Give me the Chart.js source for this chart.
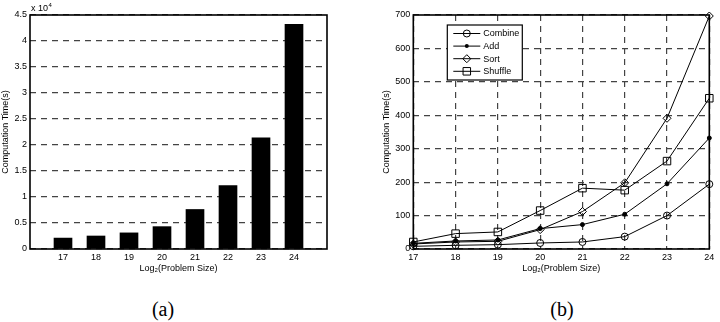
<!DOCTYPE html>
<html>
<head>
<meta charset="utf-8">
<script src="https://cdn.jsdelivr.net/npm/chart.js@4/dist/chart.umd.min.js"></script>
<style>
  body { margin: 0; background: #fff; width: 720px; height: 322px; position: relative; overflow: hidden; }
  .panel { position: absolute; top: 0; width: 360px; height: 276px; }
  #leftPanel { left: 0; }
  #rightPanel { left: 360px; }
  .caption { position: absolute; top: 298px; width: 60px; text-align: center; line-height: 22px;
             font-family: "Liberation Serif", "DejaVu Serif", serif; font-size: 20px; color: #000; }
</style>
</head>
<body>
<div class="panel" id="leftPanel"><canvas id="barChart"></canvas></div>
<div class="panel" id="rightPanel"><canvas id="lineChart"></canvas></div>
<div class="caption" style="left:133px">(a)</div>
<div class="caption" style="left:532px">(b)</div>
<script>
// problem sizes (log2) shared by both plots
const problemSizes = [17, 18, 19, 20, 21, 22, 23, 24];
// (a) total computation time, seconds
const totalTime = [2100, 2500, 3100, 4300, 7600, 12200, 21400, 43200];
// (b) per-phase computation time, seconds
const combineTime = [8, 11, 13, 18, 21, 37, 100, 194];
const addTime = [17, 24, 27, 61, 73, 104, 195, 332];
const sortTime = [15, 21, 23, 58, 112, 198, 391, 697];
const shuffleTime = [21, 46, 51, 115, 182, 176, 263, 451];
const seriesNames = ["Combine", "Add", "Sort", "Shuffle"];

Chart.defaults.font.family = '"Liberation Sans", Arial, sans-serif';
Chart.defaults.font.size = 9;
Chart.defaults.color = "#000";
Chart.defaults.animation = false;

const dash = [6, 5];
const gridColor = "#444";

// matlab style box round the plot area
const boxPlugin = {
  id: "box",
  afterDatasetsDraw(chart) {
    const a = chart.chartArea;
    const ctx = chart.ctx;
    ctx.save();
    ctx.strokeStyle = "#000";
    ctx.lineWidth = 1.6;
    ctx.strokeRect(a.left, a.top, a.right - a.left, a.bottom - a.top);
    ctx.restore();
  }
};

const exponentPlugin = {
  id: "exponent",
  afterDraw(chart) {
    const ctx = chart.ctx;
    const x = chart.chartArea.left + 1;
    const y = chart.chartArea.top - 4;
    ctx.save();
    ctx.fillStyle = "#000";
    ctx.font = '9px "Liberation Sans", Arial, sans-serif';
    ctx.textBaseline = "alphabetic";
    ctx.fillText("x 10", x, y);
    const w = ctx.measureText("x 10").width;
    ctx.font = '6px "Liberation Sans", Arial, sans-serif';
    ctx.fillText("4", x + w + 0.5, y - 4);
    ctx.restore();
  }
};

function drawMarker(ctx, style, x, y, r) {
  ctx.beginPath();
  if (style === "circle") {
    ctx.arc(x, y, r, 0, Math.PI * 2);
    ctx.stroke();
  } else if (style === "dot") {
    ctx.arc(x, y, r, 0, Math.PI * 2);
    ctx.fill();
  } else if (style === "rectRot") {
    ctx.moveTo(x, y - r); ctx.lineTo(x + r, y); ctx.lineTo(x, y + r); ctx.lineTo(x - r, y);
    ctx.closePath();
    ctx.stroke();
  } else {
    const s = r * Math.SQRT1_2;
    ctx.rect(x - s, y - s, 2 * s, 2 * s);
    ctx.stroke();
  }
}

const legendStyles = [["circle", 3.5], ["dot", 2], ["rectRot", 4], ["rect", 5.3]];

const boxLegendPlugin = {
  id: "boxLegend",
  afterDraw(chart) {
    const ctx = chart.ctx;
    const x = chart.chartArea.left + 34;
    const y = chart.chartArea.top + 10;
    ctx.save();
    ctx.fillStyle = "#fff";
    ctx.fillRect(x, y, 75, 55);
    ctx.strokeStyle = "#000";
    ctx.lineWidth = 1.2;
    ctx.strokeRect(x, y, 75, 55);
    ctx.font = '9px "Liberation Sans", Arial, sans-serif';
    ctx.textBaseline = "middle";
    seriesNames.forEach((name, i) => {
      const ry = y + 8.5 + i * 12.6;
      ctx.lineWidth = 1;
      ctx.strokeStyle = "#000";
      ctx.fillStyle = "#000";
      ctx.beginPath();
      ctx.moveTo(x + 6, ry);
      ctx.lineTo(x + 33, ry);
      ctx.stroke();
      drawMarker(ctx, legendStyles[i][0], x + 19.5, ry, legendStyles[i][1]);
      ctx.fillText(name, x + 36, ry + 0.5);
    });
    ctx.restore();
  }
};

new Chart(document.getElementById("barChart"), {
  type: "bar",
  data: {
    datasets: [{
      data: problemSizes.map((p, i) => ({ x: p, y: totalTime[i] })),
      backgroundColor: "#000",
      borderWidth: 0,
      barThickness: 18
    }]
  },
  options: {
    responsive: true,
    maintainAspectRatio: false,
    layout: { padding: { top: 15, right: 33, left: 0, bottom: 0 } },
    plugins: { legend: { display: false }, tooltip: { enabled: false } },
    scales: {
      x: {
        type: "linear",
        offset: false,
        min: 16,
        max: 25,
        grid: { display: false, drawTicks: false },
        border: { display: false },
        ticks: {
          stepSize: 1,
          padding: 3,
          callback: (v) => (v >= 17 && v <= 24 ? String(v) : "")
        },
        title: { display: true, text: "Log₂(Problem Size)", padding: { top: 0, bottom: 2 } },
        afterFit: (s) => { s.height = 27; }
      },
      y: {
        min: 0,
        max: 45000,
        grid: { color: gridColor, lineWidth: 1.2, drawTicks: false },
        border: { display: false, dash: dash },
        ticks: {
          stepSize: 5000,
          padding: 3,
          callback: (v) => String(v / 10000)
        },
        title: { display: true, text: "Computation Time(s)", padding: 0 },
        afterFit: (s) => { s.width = 30; }
      }
    }
  },
  plugins: [boxPlugin, exponentPlugin]
});

const lineSeries = [combineTime, addTime, sortTime, shuffleTime];
const pointStyles = ["circle", "circle", "rectRot", "rect"];
const pointRadii = [3.5, 2, 4, 5.3];

new Chart(document.getElementById("lineChart"), {
  type: "line",
  data: {
    datasets: lineSeries.map((vals, i) => ({
      label: seriesNames[i],
      data: problemSizes.map((p, j) => ({ x: p, y: vals[j] })),
      borderColor: "#000",
      borderWidth: 1,
      pointStyle: pointStyles[i],
      pointRadius: pointRadii[i],
      pointBorderColor: "#000",
      pointBorderWidth: 1,
      pointBackgroundColor: i === 1 ? "#000" : "rgba(0,0,0,0)",
      tension: 0,
      fill: false,
      clip: false
    }))
  },
  options: {
    responsive: true,
    maintainAspectRatio: false,
    layout: { padding: { top: 15, right: 10.7, left: 21, bottom: 0 } },
    plugins: { legend: { display: false }, tooltip: { enabled: false } },
    scales: {
      x: {
        type: "linear",
        min: 17,
        max: 24,
        grid: { color: gridColor, lineWidth: 1.2, drawTicks: false },
        border: { display: false, dash: dash },
        ticks: { stepSize: 1, padding: 3 },
        title: { display: true, text: "Log₂(Problem Size)", padding: { top: 0, bottom: 2 } },
        afterFit: (s) => { s.height = 27; }
      },
      y: {
        min: 0,
        max: 700,
        grid: { color: gridColor, lineWidth: 1.2, drawTicks: false },
        border: { display: false, dash: dash },
        ticks: { stepSize: 100, padding: 3 },
        title: { display: true, text: "Computation Time(s)", padding: 0 },
        afterFit: (s) => { s.width = 32.3; }
      }
    }
  },
  plugins: [boxPlugin, boxLegendPlugin]
});
</script>
</body>
</html>
